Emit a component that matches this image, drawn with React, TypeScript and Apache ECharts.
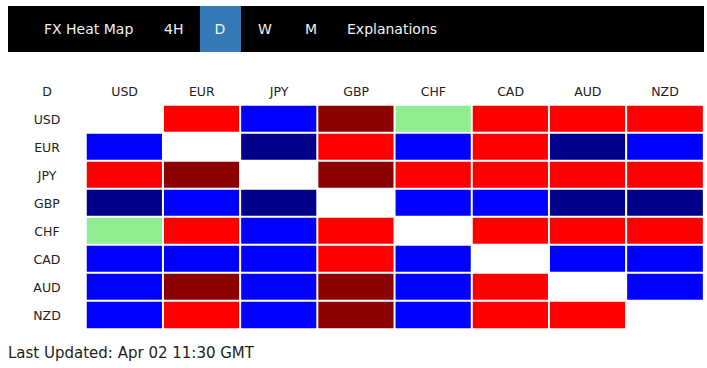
import React, { useEffect, useRef } from "react";
import * as echarts from "echarts";

const currencies = ["USD", "EUR", "JPY", "GBP", "CHF", "CAD", "AUD", "NZD"];
const navItems = ["FX Heat Map", "4H", "D", "W", "M", "Explanations"];
const activeNav = "D";
const cornerLabel = "D";
const footerText = "Last Updated: Apr 02 11:30 GMT";

// codes: 0 = same pair, 1 = red, 2 = dark red, -1 = blue, -2 = dark blue, 3 = light green
const rowUSD = [0, 1, -1, 2, 3, 1, 1, 1];
const rowEUR = [-1, 0, -2, 1, -1, 1, -2, -1];
const rowJPY = [1, 2, 0, 2, 1, 1, 1, 1];
const rowGBP = [-2, -1, -2, 0, -1, -1, -2, -2];
const rowCHF = [3, 1, -1, 1, 0, 1, 1, 1];
const rowCAD = [-1, -1, -1, 1, -1, 0, -1, -1];
const rowAUD = [-1, 2, -1, 2, -1, 1, 0, -1];
const rowNZD = [-1, 1, -1, 2, -1, 1, 1, 0];
const rows = [rowUSD, rowEUR, rowJPY, rowGBP, rowCHF, rowCAD, rowAUD, rowNZD];

const navX = [44, 164, 220, 258, 305, 347];

export default function App() {
  const ref = useRef<HTMLDivElement>(null);
  useEffect(() => {
    if (!ref.current) return;
    const chart = echarts.init(ref.current, undefined, { renderer: "svg" });
    const data: number[][] = [];
    rows.forEach((r, y) => r.forEach((v, x) => data.push([x, y, v])));
    const font = "DejaVu Sans, Verdana, sans-serif";
    const navGraphics: any[] = navItems.map((t, i) => ({
      type: "text",
      x: navX[i],
      y: 29,
      z: 10,
      style: {
        text: t,
        fill: "#f2f2f2",
        font: `14px ${font}`,
        textAlign: t === activeNav ? "center" : "left",
        textVerticalAlign: "middle",
      },
    }));
    chart.setOption({
      animation: false,
      grid: { left: 86, top: 105, width: 617.6, height: 224 },
      xAxis: {
        type: "category",
        data: currencies,
        position: "top",
        axisLine: { show: false },
        axisTick: { show: false },
        splitLine: { show: false },
        axisLabel: { color: "#222", fontSize: 12.5, fontFamily: font, margin: 7 },
      },
      yAxis: {
        type: "category",
        data: currencies,
        inverse: true,
        axisLine: { show: false },
        axisTick: { show: false },
        splitLine: { show: false },
        axisLabel: { color: "#222", fontSize: 12.5, fontFamily: font, margin: 39, align: "center" },
      },
      visualMap: {
        show: false,
        type: "piecewise",
        dimension: 2,
        pieces: [
          { value: 0, color: "#ffffff" },
          { value: 1, color: "#ff0000" },
          { value: 2, color: "#8b0000" },
          { value: -1, color: "#0000ff" },
          { value: -2, color: "#00008b" },
          { value: 3, color: "#90ee90" },
        ],
      },
      series: [
        {
          type: "heatmap",
          data,
          itemStyle: { borderColor: "#ffffff", borderWidth: 2 },
          label: { show: false },
          emphasis: { disabled: true },
        },
      ],
      graphic: [
        { type: "rect", shape: { x: 8, y: 6, width: 696, height: 46 }, style: { fill: "#000" }, z: 5 },
        { type: "rect", shape: { x: 200, y: 6, width: 41, height: 46 }, style: { fill: "#337ab7" }, z: 6 },
        ...navGraphics,
        {
          type: "text",
          x: 47,
          y: 91.5,
          style: {
            text: cornerLabel,
            fill: "#222",
            font: `12.5px ${font}`,
            textAlign: "center",
            textVerticalAlign: "middle",
          },
        },
        {
          type: "text",
          x: 8,
          y: 353,
          style: {
            text: footerText,
            fill: "#222",
            font: `15px ${font}`,
            textAlign: "left",
            textVerticalAlign: "middle",
          },
        },
      ],
    });
    return () => chart.dispose();
  }, []);
  return (
    <div
      ref={ref}
      style={{ position: "absolute", left: 0, top: 0, width: 707, height: 368, background: "#fff" }}
    />
  );
}
